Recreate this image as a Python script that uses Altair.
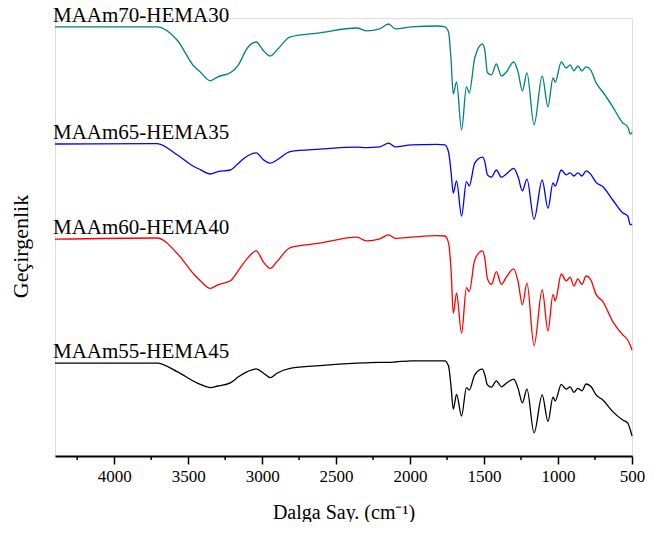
import altair as alt
import pandas as pd

# Wavenumbers (cm^-1) shared by all spectra
wavenumber = [4400, 3710, 3575, 3458, 3418, 3350, 3300, 3215, 3160, 3100,
              3040, 2990, 2945, 2900, 2810, 2610, 2360, 2295, 2205, 2145,
              2100, 1990, 1820, 1765, 1740, 1723, 1708, 1686, 1652, 1619,
              1600, 1563, 1511, 1495, 1477, 1450, 1417, 1383, 1349, 1300,
              1270, 1241, 1210, 1162, 1107, 1068, 1034, 1019, 978, 945,
              918, 893, 866, 839, 810, 776, 743, 697, 630, 563,
              529, 511, 500]

# Transmittance (offset, arbitrary units)
maam70 = [107.3, 107.3, 104.0, 97.3, 96.0, 93.8, 94.8, 95.8, 97.8, 102.0,
          103.5, 101.3, 100.0, 101.5, 104.8, 105.8, 107.0, 106.3, 106.8, 108.0,
          106.8, 107.3, 107.5, 107.3, 106.0, 99.0, 90.5, 93.5, 81.5, 92.3,
          90.8, 99.5, 103.0, 101.5, 95.8, 95.3, 98.0, 95.0, 96.0, 98.5,
          96.0, 91.3, 95.8, 82.8, 95.0, 87.3, 94.5, 93.5, 98.5, 97.0,
          97.8, 96.3, 97.5, 96.3, 97.3, 96.3, 93.3, 91.0, 87.3, 83.3,
          82.3, 80.5, 81.0]

maam65 = [78.0, 78.1, 75.3, 72.3, 71.6, 70.5, 71.1, 71.5, 73.2, 75.0,
          75.8, 74.0, 73.2, 74.0, 76.1, 76.7, 77.2, 77.1, 77.3, 78.2,
          77.3, 77.8, 77.9, 77.8, 76.0, 71.0, 65.7, 68.8, 60.0, 68.6,
          67.5, 73.2, 74.7, 73.6, 70.3, 69.7, 71.5, 69.7, 70.5, 71.9,
          69.8, 66.3, 69.2, 59.2, 69.0, 61.9, 68.3, 67.5, 71.5, 70.3,
          70.8, 70.0, 70.8, 70.0, 71.3, 70.3, 68.4, 67.3, 64.0, 60.8,
          60.0, 57.8, 58.0]

maam60 = [54.2, 54.5, 50.7, 45.3, 43.8, 41.9, 42.8, 43.8, 46.4, 49.4,
          51.3, 48.4, 46.9, 48.6, 52.1, 53.2, 54.7, 53.8, 54.3, 55.3,
          54.4, 54.7, 55.1, 55.0, 53.3, 46.5, 35.7, 40.7, 30.7, 42.1,
          41.1, 49.0, 51.3, 49.4, 44.3, 42.9, 46.1, 42.9, 44.8, 46.8,
          43.6, 37.8, 43.2, 27.6, 41.5, 31.3, 40.4, 38.8, 45.5, 43.8,
          44.7, 42.5, 44.3, 42.9, 45.0, 43.8, 40.4, 38.6, 33.6, 30.3,
          29.0, 27.6, 26.5]

maam55 = [23.2, 23.2, 21.1, 18.6, 17.9, 17.1, 17.5, 18.3, 19.8, 21.1,
          21.8, 20.7, 19.6, 20.7, 21.9, 22.6, 23.2, 23.3, 23.4, 23.4,
          23.5, 23.8, 23.8, 23.8, 22.5, 17.3, 11.7, 15.4, 10.0, 17.1,
          16.5, 20.3, 21.7, 20.3, 17.8, 17.2, 18.8, 17.3, 18.2, 19.2,
          16.9, 13.3, 16.7, 5.8, 15.3, 8.6, 14.7, 13.8, 17.9, 16.7,
          17.3, 15.9, 16.9, 16.3, 18.0, 17.3, 15.3, 14.0, 11.1, 9.0,
          8.2, 6.5, 5.0]

series_names = ["MAAm70-HEMA30", "MAAm65-HEMA35", "MAAm60-HEMA40", "MAAm55-HEMA45"]
series_values = [maam70, maam65, maam60, maam55]
series_colors = ["#008080", "#0000FF", "#FF0000", "#000000"]
x_ticks = [4000, 3500, 3000, 2500, 2000, 1500, 1000, 500]
x_minor = [4250, 3750, 3250, 2750, 2250, 1750, 1250, 750]

rows = []
for name, vals in zip(series_names, series_values):
    for wn, v in zip(wavenumber, vals):
        rows.append({"wn": wn, "T": v, "series": name})
df = pd.DataFrame(rows)

labels = pd.DataFrame({"series": series_names,
                       "wn": [wavenumber[0]] * 4,
                       "T": [vals[0] for vals in series_values]})
minor_df = pd.DataFrame({"wn": x_minor, "T": [0.0] * len(x_minor)})

FONT = "Liberation Serif"
H = 438
xscale = alt.Scale(domain=[500, 4400], reverse=True, nice=False, zero=False)
yscale = alt.Scale(domain=[0, 109.5], nice=False, zero=False)
cscale = alt.Scale(domain=series_names, range=series_colors)

x_axis = alt.Axis(values=x_ticks, title="Dalga Say. (cm⁻¹)", grid=False,
                  domainColor="black", domainWidth=2, tickColor="black",
                  tickWidth=1.5, tickSize=8, labelFont=FONT, labelFontSize=17,
                  labelColor="black", labelPadding=4, labelFlush=False,
                  titleFont=FONT, titleFontSize=20, titleFontWeight="normal",
                  titleColor="black", titlePadding=18, format="d")
y_axis = alt.Axis(title="Geçirgenlik", domain=False, domainOpacity=0,
                  domainColor="white", ticks=False, labels=False,
                  grid=False, titleFont=FONT, titleFontSize=22,
                  titleFontWeight="normal", titleColor="black",
                  titleX=-23, titleY=228)

lines = alt.Chart(df).mark_line(strokeWidth=1.3, interpolate="monotone").encode(
    x=alt.X("wn:Q", scale=xscale, axis=x_axis),
    y=alt.Y("T:Q", scale=yscale, axis=y_axis),
    color=alt.Color("series:N", scale=cscale, legend=None),
    detail="series:N",
)

minor = alt.Chart(minor_df).mark_rule(color="black", strokeWidth=1.5).encode(
    x=alt.X("wn:Q", scale=xscale, axis=x_axis),
    y=alt.value(H),
    y2=alt.value(H + 4),
)

text = alt.Chart(labels).mark_text(align="left", baseline="alphabetic", dx=-2, dy=-5,
                                   font=FONT, fontSize=21, color="black").encode(
    x=alt.X("wn:Q", scale=xscale, axis=x_axis),
    y=alt.Y("T:Q", scale=yscale, axis=y_axis),
    text="series:N",
)

chart = alt.layer(lines, minor, text).properties(
    width=577, height=H,
    autosize=alt.AutoSizeParams(type="none"),
    padding={"left": 47, "top": 10, "right": 13, "bottom": 66},
).configure_view(stroke=None).configure(background="white")

chart.save("out.html", embed_options={"renderer": "svg", "actions": False})
